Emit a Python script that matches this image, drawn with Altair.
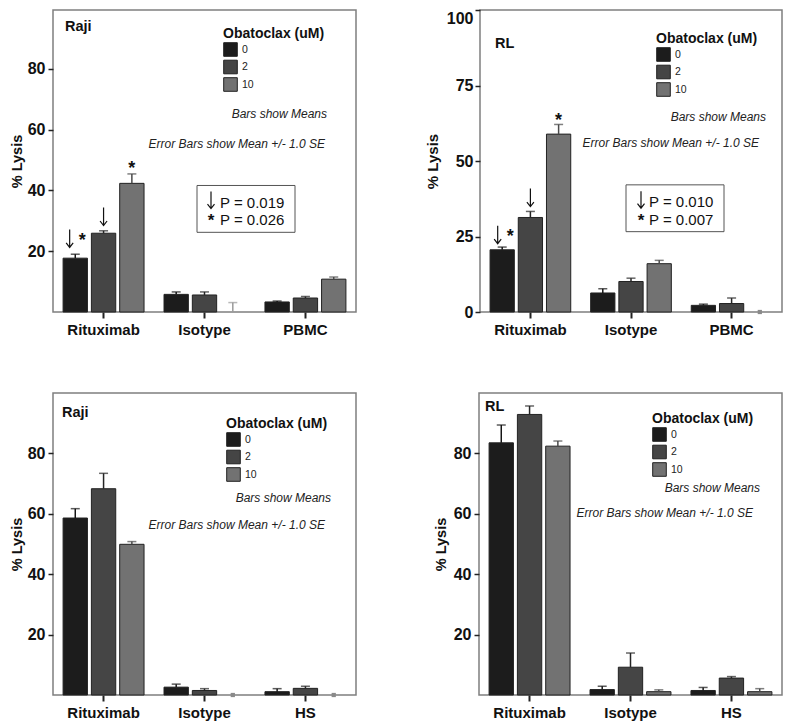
import altair as alt
import pandas as pd

# ---------------- data ----------------
doses = ["0", "2", "10"]
cats_top = ["Rituximab", "Isotype", "PBMC"]
cats_bottom = ["Rituximab", "Isotype", "HS"]

# Raji, top panel (rows = categories, cols = doses)
raji_top_mean = [[17.7, 25.9, 42.3], [5.8, 5.6, None], [3.3, 4.6, 10.8]]
raji_top_se = [[1.3, 0.8, 3.1], [0.8, 1.0, 3.1], [0.3, 0.5, 0.7]]
# RL, top panel
rl_top_mean = [[20.6, 31.3, 58.9], [6.3, 10.1, 16.0], [2.2, 2.8, None]]
rl_top_se = [[0.9, 2.0, 3.2], [1.4, 1.1, 1.1], [0.4, 1.8, 0.0]]
# Raji, bottom panel
raji_bot_mean = [[58.6, 68.3, 49.9], [2.6, 1.5, None], [1.1, 2.2, None]]
raji_bot_se = [[3.1, 5.1, 0.9], [1.0, 0.6, 0.0], [1.0, 0.7, 0.0]]
# RL, bottom panel
rl_bot_mean = [[83.5, 92.9, 82.4], [1.8, 9.2, 1.1], [1.5, 5.6, 1.1]]
rl_bot_se = [[5.9, 2.8, 1.7], [1.1, 4.7, 0.6], [1.0, 0.5, 1.0]]

p_top_raji = ["P = 0.019", "P = 0.026"]
p_top_rl = ["P = 0.010", "P = 0.007"]

# ---------------- style ----------------
BAR_COLORS = ["#1c1c1c", "#454545", "#727272"]
ERR_COLORS = {"0": "#151515", "2": "#252525", "10": "#4a4a4a"}
FONT = "Liberation Sans"
ONE = pd.DataFrame({"k": [0]})


def arrow_shape(length, shift=0.0):
    """thin down arrow with open head; coordinates in symbol units (half length = 1)"""
    h = length / 2.0
    s = shift / h
    hw = 3.5 / h
    hh = 4.5 / h
    return (f"M{s:.3f},-1L{s:.3f},1M{s - hw:.3f},{1 - hh:.3f}L{s:.3f},1L{s + hw:.3f},{1 - hh:.3f}")


def frame(cats, means, ses):
    rows = []
    for c, mrow, srow in zip(cats, means, ses):
        for d, m, s in zip(doses, mrow, srow):
            b = m if m is not None else 0.0
            rows.append(dict(cat=c, dose=d, mean=m, base=b, top=b + s, se=s,
                             ecol=ERR_COLORS[d] if m is not None else "#9a9a9a",
                             zero=0.0, empty=(m is None and s == 0)))
    return pd.DataFrame(rows)


def panel(cats, means, ses, ymax, yticks, width, height, ax, legend_xy,
          label, label_xy, notes, box=None, markers=(), top_label_fix=False):
    df = frame(cats, means, ses)
    xenc = alt.X("cat:N", sort=cats,
                 scale=alt.Scale(domain=cats, paddingInner=0.198, paddingOuter=0.1),
                 axis=alt.Axis(title=None, labelAngle=0, labelFontSize=15,
                               labelFontWeight="bold", labelColor="#111",
                               labelPadding=4, tickSize=6, tickWidth=2,
                               tickColor="#222", domain=False, ticks=True))
    xoff = alt.XOffset("dose:N", sort=doses,
                       scale=alt.Scale(domain=doses, paddingInner=0.14, paddingOuter=0))
    yscale = alt.Scale(domain=[0, ymax], nice=False, zero=False)
    ykw = dict(title="% Lysis", values=yticks, grid=False, domain=False,
               labelFontSize=16, labelFontWeight="bold", labelColor="#111",
               tickSize=5, tickWidth=1.5, tickColor="#222",
               titleFontSize=ax["tfs"], titleFontWeight="bold", titleColor="#111",
               labelPadding=ax["lp"], titlePadding=ax["tp"])
    if top_label_fix:
        ykw["labelBaseline"] = {"condition": {"test": f"datum.value == {ymax}", "value": "top"},
                                "value": "middle"}
    yaxis = alt.Axis(**ykw)

    def Y(field):
        return alt.Y(field, scale=yscale, axis=yaxis)

    def YD(v):
        return alt.YDatum(v, scale=yscale, axis=yaxis)

    base = alt.Chart(df)
    bars = base.mark_bar(stroke="#222", strokeWidth=1).encode(
        x=xenc, xOffset=xoff, y=Y("mean:Q"),
        color=alt.Color("dose:N", sort=doses,
                        scale=alt.Scale(domain=doses, range=BAR_COLORS),
                        legend=alt.Legend(title="Obatoclax (uM)", orient="none",
                                          legendX=legend_xy[0], legendY=legend_xy[1],
                                          titleFontSize=14, titleFontWeight="bold",
                                          titleColor="#111", titleFont=FONT,
                                          labelFontSize=10.5, labelColor="#222",
                                          labelFont=FONT, symbolType="square",
                                          symbolSize=185, symbolStrokeColor="#222",
                                          symbolStrokeWidth=1, symbolOpacity=1,
                                          rowPadding=-1.5, titlePadding=1,
                                          padding=0, labelOffset=4)),
    )
    err_df = df[df["se"] > 0]
    rule = alt.Chart(err_df).mark_rule(strokeWidth=1.5).encode(
        x=xenc, xOffset=xoff, y=Y("base:Q"), y2="top:Q",
        stroke=alt.Stroke("ecol:N", scale=None))
    cap = alt.Chart(err_df).mark_tick(orient="horizontal", size=9, thickness=1.5).encode(
        x=xenc, xOffset=xoff, y=Y("top:Q"),
        fill=alt.Fill("ecol:N", scale=None))
    layers = [bars, rule, cap]
    zdf = df[df["empty"]]
    if len(zdf):
        layers.append(alt.Chart(zdf).mark_square(size=18, color="#8a8a8a", opacity=1).encode(
            x=xenc, xOffset=xoff, y=Y("zero:Q")))

    # panel label
    layers.append(alt.Chart(ONE).mark_text(text=label, align="left", baseline="middle",
                                           fontSize=14.5, fontWeight="bold", color="#111").encode(
        x=alt.value(label_xy[0]), y=YD(label_xy[1])))
    # italic notes
    for txt, (px, v) in zip(["Bars show Means", "Error Bars show Mean +/- 1.0 SE"], notes):
        layers.append(alt.Chart(ONE).mark_text(text=txt, align="right", baseline="middle",
                                               fontSize=12, fontStyle="italic", color="#222").encode(
            x=alt.value(px), y=YD(v)))
    # p-value box
    if box is not None:
        (x1, x2, yt, yb, ax_, tx, ya, ys, l1, l2, ptexts) = box
        layers.append(alt.Chart(ONE).mark_rect(fillOpacity=0, stroke="#555", strokeWidth=1).encode(
            x=alt.value(x1), x2=alt.value(x2), y=YD(yt), y2=alt.Y2Datum(yb)))
        layers.append(alt.Chart(ONE).mark_point(shape=arrow_shape(17), size=17 * 17, filled=False,
                                                stroke="#111", strokeWidth=1.2, opacity=1).encode(
            x=alt.value(ax_), y=YD(ya)))
        layers.append(alt.Chart(ONE).mark_text(text="*", align="center", baseline="middle",
                                               fontSize=17, fontWeight="bold", dy=4, color="#111").encode(
            x=alt.value(ax_), y=YD(ys)))
        for t, v in zip(ptexts, [l1, l2]):
            layers.append(alt.Chart(ONE).mark_text(text=t, align="left", baseline="middle",
                                                   fontSize=15, color="#111").encode(
                x=alt.value(tx), y=YD(v)))
    # markers above bars
    for (c, d, v, sym, dx) in markers:
        mdf = pd.DataFrame({"cat": [c], "dose": [d], "v": [v]})
        if sym == "arrow":
            m = alt.Chart(mdf).mark_point(shape=arrow_shape(18, dx), size=18 * 18, filled=False,
                                          stroke="#111", strokeWidth=1.2, opacity=1)
        else:
            m = alt.Chart(mdf).mark_text(text="*", fontSize=18, fontWeight="bold", dx=dx, dy=4,
                                         baseline="middle", color="#111")
        layers.append(m.encode(x=xenc, xOffset=xoff, y=Y("v:Q")))

    return alt.layer(*layers).properties(width=width, height=height).resolve_scale(
        color="independent")


p1 = panel(cats_top, raji_top_mean, raji_top_se, 99.3, [20, 40, 60, 80], 303, 302,
           dict(tfs=14.5, lp=3, tp=2.5), (170, 17), "Raji", (12, 93.7),
           [(274, 65.0), (272, 55.3)],
           box=(144, 242, 41.6, 26.2, 158, 167, 36.8, 31.3, 36.0, 30.4, p_top_raji),
           markers=[("Rituximab", "0", 24.2, "arrow", -5.6), ("Rituximab", "0", 24.5, "star", 7),
                    ("Rituximab", "2", 31.4, "arrow", 0), ("Rituximab", "10", 48.4, "star", 0)])

p2 = panel(cats_top, rl_top_mean, rl_top_se, 100, [0, 25, 50, 75, 100], 302, 302,
           dict(tfs=15, lp=2, tp=5.5), (176, 22), "RL", (15, 88.6),
           [(286, 64.5), (279, 56.1)],
           box=(146, 244, 42.1, 26.6, 161, 169, 37.2, 31.5, 36.4, 30.6, p_top_rl),
           markers=[("Rituximab", "0", 25.6, "arrow", -4.5), ("Rituximab", "0", 26.1, "star", 8),
                    ("Rituximab", "2", 37.9, "arrow", 0), ("Rituximab", "10", 64.7, "star", 0)],
           top_label_fix=True)

p3 = panel(cats_bottom, raji_bot_mean, raji_bot_se, 100, [20, 40, 60, 80], 303, 302,
           dict(tfs=14.5, lp=3, tp=2.5), (173, 24), "Raji", (9, 93.5),
           [(278, 65.2), (272, 56.3)])

p4 = panel(cats_bottom, rl_bot_mean, rl_bot_se, 100, [20, 40, 60, 80], 303, 302,
           dict(tfs=14.5, lp=3, tp=4.5), (173, 19), "RL", (6, 95.4),
           [(281, 68.5), (274, 60.4)])

row1 = alt.hconcat(p1, p2, spacing=68).resolve_scale(
    x="independent", y="independent", color="independent", xOffset="independent"
).resolve_legend(color="independent")
row2 = alt.hconcat(p3, p4, spacing=75).resolve_scale(
    x="independent", y="independent", color="independent", xOffset="independent"
).resolve_legend(color="independent")

chart = alt.vconcat(row1, row2, spacing=54).resolve_scale(
    x="independent", y="independent", color="independent", xOffset="independent"
).resolve_legend(color="independent").properties(
    padding={"left": 0, "top": 0, "right": 0, "bottom": 0}
).configure(font=FONT).configure_view(stroke="#7f7f7f", strokeWidth=1.5)

chart.save("out.html", embed_options={"renderer": "svg", "actions": False})
